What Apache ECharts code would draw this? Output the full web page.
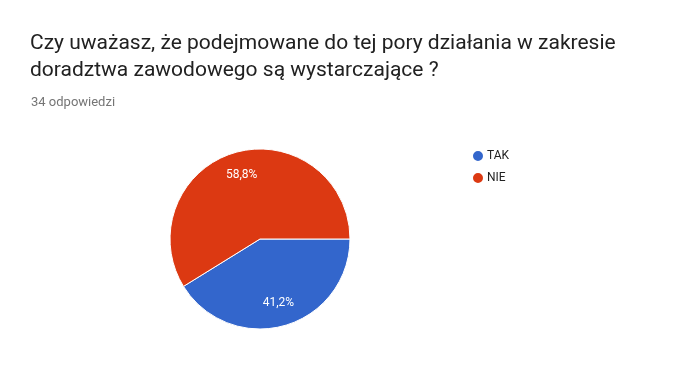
<!DOCTYPE html>
<html><head><meta charset="utf-8">
<script src="https://cdn.jsdelivr.net/npm/echarts@6/dist/echarts.min.js"></script>
<style>html,body{margin:0;padding:0;background:#fff;}#c{width:679px;height:385px;}</style>
</head><body><div id="c"></div>
<script>
const titleText = 'Czy uważasz, że podejmowane do tej pory działania w zakresie\ndoradztwa zawodowego są wystarczające ?';
const subtitleText = '34 odpowiedzi';
const categories = ['TAK', 'NIE'];
const counts = [14, 20];
const colors = ['#3366CC', '#DC3912'];

const data = categories.map((c, i) => ({ name: c, value: counts[i], itemStyle: { color: colors[i] } }));
const fmt = p => p.percent.toFixed(1).replace('.', ',') + '%';

const chart = echarts.init(document.getElementById('c'));
chart.setOption({
  animation: false,
  backgroundColor: '#fff',
  textStyle: { fontFamily: 'Roboto' },
  title: [
    { text: titleText, left: 30, top: 30, padding: 0,
      textStyle: { fontFamily: 'Roboto', fontSize: 21, fontWeight: 'normal', color: '#212121', lineHeight: 27 } },
    { text: subtitleText, left: 31, top: 96, padding: 0,
      textStyle: { fontFamily: 'Roboto', fontSize: 13, fontWeight: 'normal', color: '#757575', lineHeight: 14 } }
  ],
  legend: {
    orient: 'vertical', left: 471, top: 149, icon: 'circle', itemWidth: 12, itemHeight: 12, itemGap: 8, padding: 0,
    data: categories,
    textStyle: { fontFamily: 'Roboto', fontSize: 12, color: '#222', padding: [0, 0, 0, -2] }
  },
  series: [
    {
      type: 'pie', center: [260, 239], radius: [0, 90], startAngle: 0, clockwise: true,
      percentPrecision: 1,
      itemStyle: { borderColor: '#fff', borderWidth: 1 },
      label: { show: false }, labelLine: { show: false },
      emphasis: { disabled: true },
      data: data
    },
    {
      type: 'pie', center: [260, 239], radius: [38, 90], startAngle: 0, clockwise: true,
      percentPrecision: 1, silent: true,
      itemStyle: { color: 'transparent', borderWidth: 0 },
      label: { show: true, position: 'inside', formatter: fmt, color: '#fff', fontFamily: 'Roboto', fontSize: 12 },
      labelLine: { show: false },
      emphasis: { disabled: true },
      data: categories.map((c, i) => ({ name: c, value: counts[i], itemStyle: { color: 'transparent' } }))
    }
  ]
});
</script></body></html>
